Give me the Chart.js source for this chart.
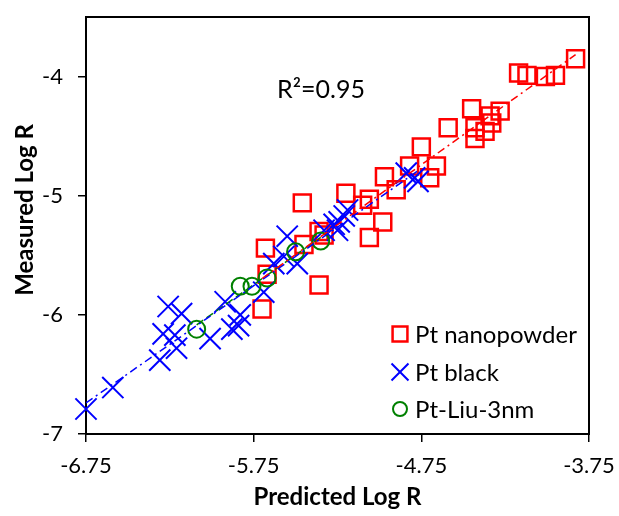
<!DOCTYPE html>
<html>
<head>
<meta charset="utf-8">
<script src="https://cdn.jsdelivr.net/npm/chart.js@4.4.1/dist/chart.umd.min.js"></script>
<style>
  html, body { margin: 0; padding: 0; background: #fff; }
  #wrap { width: 619px; height: 516px; }
</style>
</head>
<body>
<div id="wrap"><canvas id="chart" width="619" height="516"></canvas></div>
<script>
// predicted (x) vs measured (y) log R
const nanoPred = [-3.83, -4.17, -4.12, -4.01, -3.95, -4.45, -4.34, -4.28, -4.33, -4.59, -4.43, -4.37, -4.43,
  -4.75, -4.82, -4.66, -4.70, -4.97, -4.90, -5.20, -5.10, -5.06, -4.98, -5.06, -5.46, -5.36, -5.33,
  -5.68, -5.45, -5.67, -5.36, -5.70];
const nanoMeas = [-3.85, -3.97, -3.99, -4.00, -3.99, -4.27, -4.33, -4.29, -4.39, -4.43, -4.43, -4.46, -4.52,
  -4.59, -4.75, -4.75, -4.85, -4.84, -4.95, -4.98, -5.08, -5.03, -5.22, -5.35, -5.06, -5.30, -5.33,
  -5.44, -5.41, -5.66, -5.75, -5.95];

const blackPred = [-6.75, -6.59, -6.31, -6.26, -6.18, -6.29, -6.22, -6.21, -6.01, -5.92, -5.83, -5.88, -5.84,
  -5.69, -5.63, -5.57, -5.55, -5.49, -5.33, -5.27, -5.25, -5.21, -5.19, -4.84, -4.79, -4.77, -5.24];
const blackMeas = [-6.79, -6.61, -6.38, -5.93, -5.99, -6.16, -6.17, -6.28, -6.20, -5.89, -6.00, -6.12, -6.09,
  -5.81, -5.57, -5.51, -5.34, -5.57, -5.29, -5.24, -5.29, -5.17, -5.12, -4.81, -4.85, -4.88, -5.22];

const liuPred = [-6.09, -5.83, -5.76, -5.67, -5.50, -5.35];
const liuMeas = [-6.12, -5.76, -5.76, -5.69, -5.47, -5.38];

const xTickValues = [-6.75, -5.75, -4.75, -3.75];
const yTickValues = [-7, -6, -5, -4];
const seriesNames = ['Pt nanopowder', 'Pt black', 'Pt-Liu-3nm'];
const r2Label = 'R\u00b2=0.95';

const FONT = 'Lato, "Open Sans", sans-serif';

function toPoints(xs, ys) {
  return xs.map((x, i) => ({ x: x, y: ys[i] }));
}

// linear trendline over the x range of the series (like Excel)
function trend(xs, ys) {
  const n = xs.length;
  const mx = xs.reduce((a, b) => a + b, 0) / n;
  const my = ys.reduce((a, b) => a + b, 0) / n;
  let sxy = 0, sxx = 0;
  for (let i = 0; i < n; i++) {
    sxy += (xs[i] - mx) * (ys[i] - my);
    sxx += (xs[i] - mx) * (xs[i] - mx);
  }
  const k = sxy / sxx, b = my - k * mx;
  const lo = Math.min(...xs), hi = Math.max(...xs);
  return [{ x: lo, y: k * lo + b }, { x: hi, y: k * hi + b }];
}

const markers = [
  { style: 'rect', color: '#ff0000', radius: 12, width: 2.5, legendRadius: 10.5 },
  { style: 'crossRot', color: '#0000ff', radius: 15, width: 2, legendRadius: 12 },
  { style: 'circle', color: '#008000', radius: 8.5, width: 2, legendRadius: 7 }
];

function markerSet(label, data, m, order) {
  return {
    label: label,
    data: data,
    pointStyle: m.style,
    pointRadius: m.radius,
    pointHoverRadius: m.radius,
    pointBorderWidth: m.width,
    pointBorderColor: m.color,
    pointBackgroundColor: 'rgba(0,0,0,0)',
    showLine: false,
    clip: false,
    order: order
  };
}

function trendSet(data, color, dash) {
  return {
    label: 'trend',
    data: data,
    showLine: true,
    borderColor: color,
    borderWidth: 1.5,
    borderDash: dash,
    pointRadius: 0,
    fill: false,
    order: 0
  };
}

const extras = {
  id: 'extras',
  beforeDatasetsDraw(chart) {
    const { ctx, chartArea: a } = chart;
    ctx.save();
    ctx.strokeStyle = '#000';
    ctx.lineWidth = 2;
    ctx.strokeRect(a.left, a.top, a.right - a.left, a.bottom - a.top);
    ctx.restore();
  },
  afterDraw(chart) {
    const ctx = chart.ctx;
    ctx.save();
    ctx.fillStyle = '#000';

    ctx.font = '25px ' + FONT;
    ctx.textAlign = 'left';
    ctx.textBaseline = 'alphabetic';
    ctx.fillText(r2Label, 277, 98);

    // y axis title
    ctx.save();
    ctx.translate(25, 210);
    ctx.rotate(-Math.PI / 2);
    ctx.font = 'bold 24px ' + FONT;
    ctx.textAlign = 'center';
    ctx.textBaseline = 'middle';
    ctx.fillText('Measured Log R', 0, 0);
    ctx.restore();

    // legend inside the plot
    const rows = [334, 372, 409];
    ctx.font = '24px ' + FONT;
    ctx.textAlign = 'left';
    ctx.textBaseline = 'middle';
    markers.forEach((m, i) => {
      ctx.strokeStyle = m.color;
      ctx.fillStyle = 'rgba(0,0,0,0)';
      ctx.lineWidth = m.width;
      Chart.helpers.drawPoint(ctx, { pointStyle: m.style, radius: m.legendRadius, rotation: 0, borderWidth: m.width }, 400, rows[i]);
      ctx.fillStyle = '#000';
      ctx.fillText(seriesNames[i], 415, rows[i] + 1);
    });
    ctx.restore();
  }
};

new Chart(document.getElementById('chart'), {
  type: 'scatter',
  data: {
    datasets: [
      markerSet(seriesNames[0], toPoints(nanoPred, nanoMeas), markers[0], 3),
      markerSet(seriesNames[1], toPoints(blackPred, blackMeas), markers[1], 2),
      markerSet(seriesNames[2], toPoints(liuPred, liuMeas), markers[2], 1),
      trendSet(trend(nanoPred, nanoMeas), '#ff0000', [8, 4, 2, 4]),
      trendSet(trend(blackPred, blackMeas), '#0000ff', [8, 4, 2, 4]),
      trendSet(trend(liuPred, liuMeas), '#008000', [8, 4])
    ]
  },
  options: {
    responsive: false,
    animation: false,
    layout: { padding: { top: 12, right: 30, left: 0, bottom: 0 } },
    plugins: {
      legend: { display: false },
      tooltip: { enabled: false }
    },
    scales: {
      x: {
        type: 'linear',
        min: -6.75,
        max: -3.75,
        afterBuildTicks: s => { s.ticks = xTickValues.map(v => ({ value: v })); },
        afterFit: s => { s.height = 82; s.paddingLeft = 0; s.paddingRight = 0; },
        ticks: {
          callback: v => v.toFixed(2),
          color: '#000',
          font: { family: FONT, size: 22 },
          padding: 11,
          maxRotation: 0
        },
        grid: { drawOnChartArea: false, drawTicks: true, tickLength: 8, color: '#000', lineWidth: 1.5 },
        border: { display: true, color: '#000', width: 2 },
        title: {
          display: true,
          text: 'Predicted Log R',
          color: '#000',
          font: { family: FONT, size: 24, weight: 'bold' },
          padding: { top: 0, bottom: 4 }
        }
      },
      y: {
        type: 'linear',
        min: -7,
        max: -3.5,
        afterBuildTicks: s => { s.ticks = yTickValues.map(v => ({ value: v })); },
        afterFit: s => { s.width = 86; s.paddingTop = 0; s.paddingBottom = 0; },
        ticks: {
          callback: v => String(v),
          color: '#000',
          font: { family: FONT, size: 22 },
          padding: 15
        },
        grid: { drawOnChartArea: false, drawTicks: true, tickLength: 8, color: '#000', lineWidth: 1.5 },
        border: { display: true, color: '#000', width: 2 }
      }
    }
  },
  plugins: [extras]
});
</script>
</body>
</html>
